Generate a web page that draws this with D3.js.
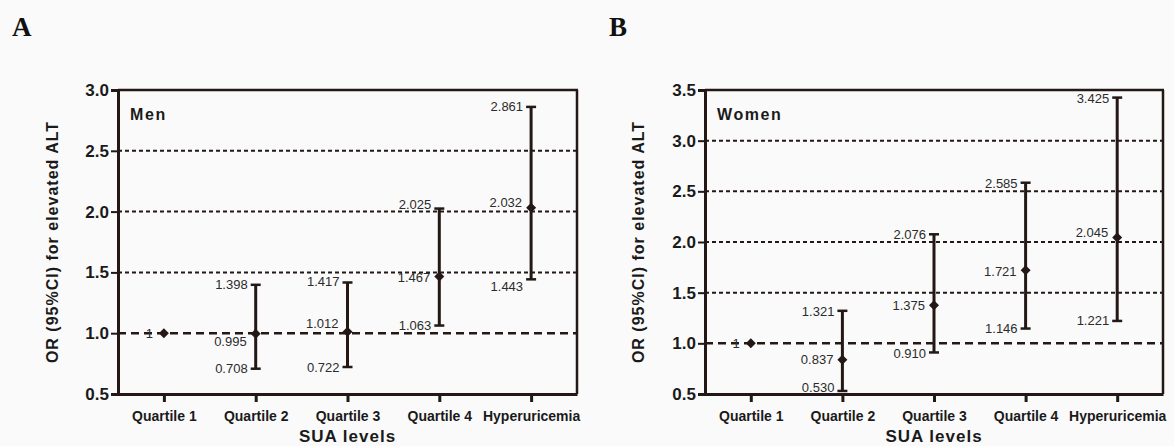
<!DOCTYPE html>
<html>
<head>
<meta charset="utf-8">
<script src="https://cdn.jsdelivr.net/npm/d3@7"></script>
<style>
  body { margin: 0; background: #fafafa; }
  svg { display: block; }
</style>
</head>
<body>
<div id="chart"></div>
<script>
// SUA levels vs OR for elevated ALT
const categories = ['Quartile 1', 'Quartile 2', 'Quartile 3', 'Quartile 4', 'Hyperuricemia'];

const menOR = [1, 0.995, 1.012, 1.467, 2.032];
const menLower = [null, 0.708, 0.722, 1.063, 1.443];
const menUpper = [null, 1.398, 1.417, 2.025, 2.861];
const menTicks = [0.5, 1.0, 1.5, 2.0, 2.5, 3.0];

const womenOR = [1, 0.837, 1.375, 1.721, 2.045];
const womenLower = [null, 0.530, 0.910, 1.146, 1.221];
const womenUpper = [null, 1.321, 2.076, 2.585, 3.425];
const womenTicks = [0.5, 1.0, 1.5, 2.0, 2.5, 3.0, 3.5];

// label nudges in px (layout only)
const menShift = { point: [0, 8, -8, 1, -5], lower: [0, 0, 0, 0, 7], upper: [0, 0, -1, -4, 0] };
const womenShift = { point: [0, 0, 0, 1, -5], lower: [0, -4, 1, 0, 0], upper: [0, 1, 0, 1, 1] };

const ink = '#231815';
const W = 1174, H = 446;

const svg = d3.select('#chart').append('svg')
  .attr('width', W)
  .attr('height', H)
  .style('font-family', 'Liberation Sans, Arial, sans-serif')

const fmt = d3.format('.3f')

function drawPanel(opt) {
  const left = opt.left, right = opt.right, top = 90, bottom = 394

  const x = d3.scalePoint()
    .domain(categories)
    .range([left, right])
    .padding(0.5)

  const y = d3.scaleLinear()
    .domain([opt.ticks[0], opt.ticks[opt.ticks.length - 1]])
    .range([bottom, top])

  const g = svg.append('g')

  // panel letter
  g.append('text')
    .attr('x', opt.letterX)
    .attr('y', 36)
    .style('font-family', 'Liberation Serif, Times New Roman, serif')
    .style('font-weight', 'bold')
    .style('font-size', '27px')
    .attr('fill', '#111')
    .text(opt.letter)

  // grid lines
  g.selectAll('.grid')
    .data(opt.ticks.slice(1, -1))
    .enter().append('line')
    .attr('x1', left).attr('x2', right)
    .attr('y1', (d) => y(d)).attr('y2', (d) => y(d))
    .attr('stroke', ink)
    .attr('stroke-width', (d) => d === 1 ? 2.5 : 2)
    .attr('stroke-dasharray', (d) => d === 1 ? '8,5' : '4,3')

  // frame: top and right
  g.append('line')
    .attr('x1', left).attr('x2', right + 1)
    .attr('y1', top).attr('y2', top)
    .attr('stroke', ink).attr('stroke-width', 2.5)
  g.append('line')
    .attr('x1', right).attr('x2', right)
    .attr('y1', top).attr('y2', bottom)
    .attr('stroke', ink).attr('stroke-width', 2.5)

  // axes
  const yAxis = g.append('g')
    .attr('transform', 'translate(' + left + ',0)')
    .call(d3.axisLeft(y).tickValues(opt.ticks).tickFormat(d3.format('.1f')).tickSize(7).tickPadding(2))
  yAxis.select('.domain').attr('stroke', ink).attr('stroke-width', 3)
  yAxis.selectAll('.tick line').attr('stroke', ink).attr('stroke-width', 2)
  yAxis.selectAll('.tick text')
    .attr('fill', '#1a1a1a')
    .style('font-size', '17px')
    .style('font-weight', 'bold')
    .attr('font-family', null)

  const xAxis = g.append('g')
    .attr('transform', 'translate(0,' + bottom + ')')
    .call(d3.axisBottom(x).tickSize(8).tickSizeOuter(0).tickPadding(9))
  xAxis.select('.domain').attr('stroke', ink).attr('stroke-width', 3)
  xAxis.selectAll('.tick line').attr('stroke', ink).attr('stroke-width', 3)
  xAxis.selectAll('.tick text')
    .attr('fill', '#1a1a1a')
    .style('font-size', '14px')
    .style('font-weight', 'bold')
    .attr('font-family', null)

  // axis titles
  g.append('text')
    .attr('x', (left + right) / 2)
    .attr('y', 442)
    .attr('text-anchor', 'middle')
    .style('font-size', '17px')
    .style('font-weight', 'bold')
    .style('letter-spacing', '1px')
    .attr('fill', '#1a1a1a')
    .text('SUA levels')

  g.append('text')
    .attr('transform', 'translate(' + opt.titleX + ',' + ((top + bottom) / 2) + ') rotate(-90)')
    .attr('text-anchor', 'middle')
    .attr('dy', '0.35em')
    .style('font-size', '16px')
    .style('font-weight', 'bold')
    .style('letter-spacing', '1px')
    .attr('fill', '#1a1a1a')
    .text('OR (95%CI) for elevated ALT')

  g.append('text')
    .attr('x', left + 12)
    .attr('y', 120)
    .style('font-size', '16px')
    .style('font-weight', 'bold')
    .style('letter-spacing', '1.6px')
    .attr('fill', '#1a1a1a')
    .text(opt.name)

  const rows = categories.map((c, i) => ({
    cat: c, or: opt.or[i], lo: opt.lower[i], hi: opt.upper[i], i: i
  }))

  // error bars
  const ci = rows.filter((d) => d.lo !== null)
  g.selectAll('.bar')
    .data(ci).enter().append('line')
    .attr('x1', (d) => x(d.cat)).attr('x2', (d) => x(d.cat))
    .attr('y1', (d) => y(d.lo)).attr('y2', (d) => y(d.hi))
    .attr('stroke', ink).attr('stroke-width', 3)

  ;['lo', 'hi'].forEach((k) => {
    g.selectAll('.cap-' + k)
      .data(ci).enter().append('line')
      .attr('x1', (d) => x(d.cat) - 5).attr('x2', (d) => x(d.cat) + 5)
      .attr('y1', (d) => y(d[k])).attr('y2', (d) => y(d[k]))
      .attr('stroke', ink).attr('stroke-width', 2.5)
  })

  // diamonds
  g.selectAll('.pt')
    .data(rows).enter().append('path')
    .attr('d', (d) => {
      const cx = x(d.cat), cy = y(d.or)
      return 'M' + cx + ',' + (cy - 5) + 'L' + (cx + 5) + ',' + cy +
        'L' + cx + ',' + (cy + 5) + 'L' + (cx - 5) + ',' + cy + 'Z'
    })
    .attr('fill', ink)

  // value labels
  const lab = (sel) => sel
    .attr('text-anchor', 'end')
    .attr('dy', '0.35em')
    .style('font-size', '13px')
    .attr('fill', '#2b2b2b')

  g.selectAll('.lab-pt')
    .data(rows).enter().append('text')
    .call(lab)
    .attr('x', (d) => x(d.cat) - (d.lo === null ? 11 : 9))
    .attr('y', (d) => y(d.or) + opt.shift.point[d.i])
    .text((d) => d.lo === null ? '1' : fmt(d.or))

  g.selectAll('.lab-lo')
    .data(ci).enter().append('text')
    .call(lab)
    .attr('x', (d) => x(d.cat) - 8)
    .attr('y', (d) => y(d.lo) + opt.shift.lower[d.i])
    .text((d) => fmt(d.lo))

  g.selectAll('.lab-hi')
    .data(ci).enter().append('text')
    .call(lab)
    .attr('x', (d) => x(d.cat) - 8)
    .attr('y', (d) => y(d.hi) + opt.shift.upper[d.i])
    .text((d) => fmt(d.hi))
}

drawPanel({
  letter: 'A', letterX: 12, left: 118, right: 577, titleX: 52, name: 'Men',
  or: menOR, lower: menLower, upper: menUpper, ticks: menTicks, shift: menShift
})

drawPanel({
  letter: 'B', letterX: 609, left: 705, right: 1163, titleX: 638, name: 'Women',
  or: womenOR, lower: womenLower, upper: womenUpper, ticks: womenTicks, shift: womenShift
})
</script>
</body>
</html>
